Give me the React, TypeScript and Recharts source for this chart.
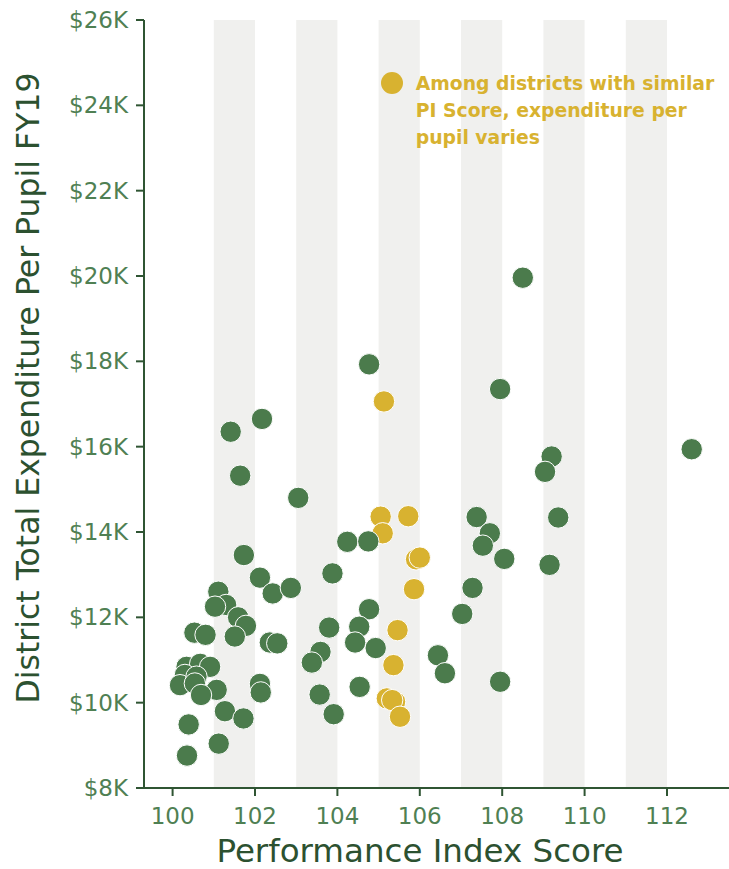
import React from 'react';
import { ScatterChart, Scatter, XAxis, YAxis, ReferenceArea, Legend } from 'recharts';

// Performance Index score (x) and expenditure per pupil in $K (y)
const greenScores = [
  101.73, 102.12, 102.43, 102.87, 101.11, 101.30, 101.03, 101.59, 101.78, 100.53,
  100.80, 101.51, 102.36, 102.54, 100.34, 100.67, 100.91, 100.30, 100.18, 100.58,
  100.54, 101.07, 100.69, 102.12, 102.14, 101.27, 101.72, 100.39, 101.12, 100.35,
  103.88, 103.80, 103.59, 103.38, 103.57, 103.91, 101.41, 102.17, 101.64, 103.05,
  104.77, 104.24, 104.75, 104.77, 104.53, 104.43, 104.93, 104.54, 106.44, 106.61,
  107.03, 108.50, 107.95, 109.20, 109.04, 112.60, 107.38, 107.70, 107.53, 108.05,
  109.36, 109.15, 107.28, 107.95,
];
const greenSpend = [
  13.46, 12.93, 12.56, 12.69, 12.60, 12.29, 12.25, 12.00, 11.80, 11.64,
  11.59, 11.55, 11.41, 11.39, 10.84, 10.91, 10.84, 10.65, 10.41, 10.61,
  10.45, 10.30, 10.18, 10.44, 10.24, 9.80, 9.63, 9.49, 9.04, 8.76,
  13.03, 11.76, 11.19, 10.94, 10.19, 9.73, 16.35, 16.65, 15.32, 14.80,
  17.93, 13.77, 13.78, 12.19, 11.78, 11.41, 11.28, 10.37, 11.11, 10.69,
  12.08, 19.96, 17.35, 15.77, 15.41, 15.94, 14.35, 13.97, 13.68, 13.37,
  14.34, 13.23, 12.69, 10.49,
];
const goldScores = [
  105.13, 105.05, 105.72, 105.10, 105.91, 106.00, 105.86, 105.46, 105.36, 105.20,
  105.40, 105.33, 105.52,
];
const goldSpend = [
  17.06, 14.36, 14.37, 13.97, 13.36, 13.40, 12.66, 11.70, 10.88, 10.10,
  10.02, 10.06, 9.67,
];

const xTicks = [100, 102, 104, 106, 108, 110, 112];
const yTicks = [8, 10, 12, 14, 16, 18, 20, 22, 24, 26];
const bandStarts = [101, 103, 105, 107, 109, 111];
const annotationLines = [
  'Among districts with similar',
  'PI Score, expenditure per',
  'pupil varies',
];

const greenData = greenScores.map((x, i) => ({ x, y: greenSpend[i] }));
const goldData = goldScores.map((x, i) => ({ x, y: goldSpend[i] }));

const GREEN = '#4b7b4c';
const GOLD = '#d8b230';
const AXIS = '#2f5533';
const TICK = '#4f8053';
const TITLE = '#2c5130';
const FONT = "'DejaVu Sans', sans-serif";

const dot = (color: string) => (props: any) => (
  <circle cx={props.cx} cy={props.cy} r={10.7} fill={color} stroke="#ffffff" strokeWidth={1} />
);

const AnnotationLegend = () => (
  <div style={{ position: 'relative', fontFamily: FONT }}>
    <div
      style={{
        position: 'absolute',
        left: 0,
        top: 2,
        width: 22,
        height: 22,
        borderRadius: '50%',
        background: GOLD,
      }}
    />
    <div
      style={{
        marginLeft: 35,
        paddingTop: 0,
        color: GOLD,
        fontWeight: 'bold',
        fontSize: 18.8,
        lineHeight: '27px',
        whiteSpace: 'nowrap',
      }}
    >
      {annotationLines.map((l) => (
        <div key={l}>{l}</div>
      ))}
    </div>
  </div>
);

export default function App() {
  return (
    <div style={{ width: 729, height: 869 }}>
      <style>{'body{margin:0;overflow:hidden;}'}</style>
      <ScatterChart
        width={729}
        height={869}
        margin={{ top: 20, right: 0, bottom: 0, left: 54 }}
        style={{ fontFamily: FONT }}
      >
        {bandStarts.map((s) => (
          <ReferenceArea
            key={s}
            x1={s}
            x2={s + 1}
            y1={8}
            y2={26}
            fill="#f0f0ee"
            fillOpacity={1}
            stroke="none"
            ifOverflow="hidden"
          />
        ))}
        <XAxis
          type="number"
          dataKey="x"
          domain={[99.306, 113.505]}
          ticks={xTicks}
          allowDataOverflow
          height={81}
          stroke={AXIS}
          strokeWidth={2}
          tickSize={8}
          tickMargin={12}
          tick={{ fill: TICK, fontSize: 23, fontFamily: FONT }}
          tickLine={{ stroke: AXIS, strokeWidth: 2 }}
          label={{
            content: () => (
              <text x={420} y={862} textAnchor="middle" fill={TITLE} fontSize={32.5} fontFamily={FONT}>
                Performance Index Score
              </text>
            ),
          }}
        />
        <YAxis
          type="number"
          dataKey="y"
          domain={[8, 26]}
          ticks={yTicks}
          allowDataOverflow
          width={90}
          stroke={AXIS}
          strokeWidth={2}
          tickSize={8}
          tickMargin={8}
          tickFormatter={(v: number) => `$${v}K`}
          tick={{ fill: TICK, fontSize: 23, fontFamily: FONT }}
          tickLine={{ stroke: AXIS, strokeWidth: 2 }}
          label={{
            content: () => (
              <text
                x={28}
                y={388}
                transform="rotate(-90 28 388)"
                textAnchor="middle"
                dominantBaseline="central"
                fill={TITLE}
                fontSize={31.5}
                fontFamily={FONT}
              >
                District Total Expenditure Per Pupil FY19
              </text>
            ),
          }}
        />
        <Legend
          layout="horizontal"
          verticalAlign="middle"
          align="center"
          content={() => <AnnotationLegend />}
          wrapperStyle={{ top: 70, left: 380.7, width: 348, height: 90 }}
        />
        <Scatter data={goldData} fill={GOLD} shape={dot(GOLD)} isAnimationActive={false} />
        <Scatter data={greenData} fill={GREEN} shape={dot(GREEN)} isAnimationActive={false} />
      </ScatterChart>
    </div>
  );
}
